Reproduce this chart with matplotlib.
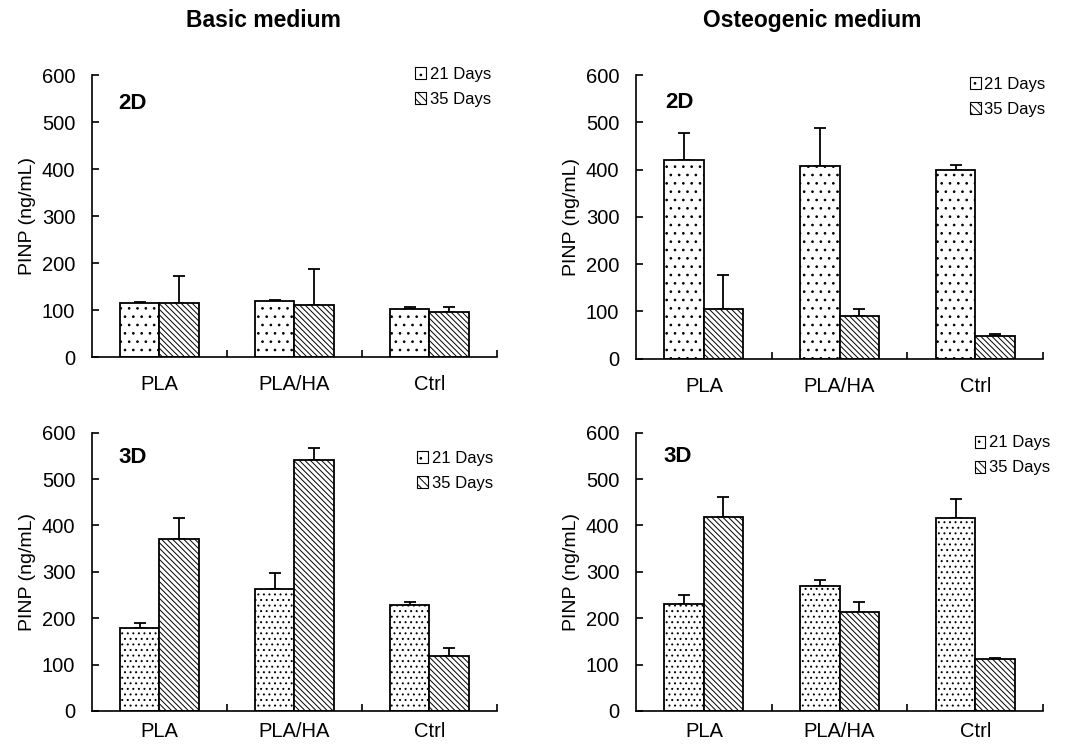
import matplotlib
matplotlib.use("Agg")
import matplotlib.pyplot as plt
import numpy as np
from matplotlib.patches import Patch

plt.rcParams['font.family'] = ['Liberation Sans', 'DejaVu Sans']
plt.rcParams['hatch.linewidth'] = 0.7

categories = ["PLA", "PLA/HA", "Ctrl"]
series_labels = ["21 Days", "35 Days"]
yticks = [0, 100, 200, 300, 400, 500, 600]

# Basic medium 2D
basic_2d_21 = [116, 119, 102]
basic_2d_21_err = [1, 2, 5]
basic_2d_35 = [116, 110, 96]
basic_2d_35_err = [56, 78, 11]
# Osteogenic medium 2D
osteo_2d_21 = [421, 407, 399]
osteo_2d_21_err = [56, 81, 11]
osteo_2d_35 = [104, 90, 48]
osteo_2d_35_err = [74, 14, 5]
# Basic medium 3D
basic_3d_21 = [178, 262, 229]
basic_3d_21_err = [12, 35, 6]
basic_3d_35 = [371, 541, 118]
basic_3d_35_err = [45, 25, 18]
# Osteogenic medium 3D
osteo_3d_21 = [230, 269, 416]
osteo_3d_21_err = [19, 14, 42]
osteo_3d_35 = [419, 213, 113]
osteo_3d_35_err = [42, 22, 2]

fig = plt.figure(figsize=(10.77, 7.44), dpi=100)

panels = [
    ([0.0854, 0.520, 0.376, 0.379], basic_2d_21, basic_2d_21_err, basic_2d_35, basic_2d_35_err,
     "2D", (0.985, 1.03), (0.10, 0.90), '..', 13),
    ([0.5905, 0.518, 0.378, 0.381], osteo_2d_21, osteo_2d_21_err, osteo_2d_35, osteo_2d_35_err,
     "2D", (1.005, 0.995), (0.106, 0.905), '..', 13),
    ([0.0854, 0.0444, 0.376, 0.374], basic_3d_21, basic_3d_21_err, basic_3d_35, basic_3d_35_err,
     "3D", (0.99, 0.935), (0.10, 0.91), '...', 8),
    ([0.5905, 0.0444, 0.378, 0.374], osteo_3d_21, osteo_3d_21_err, osteo_3d_35, osteo_3d_35_err,
     "3D", (1.017, 0.99), (0.103, 0.914), '...', 8),
]

w = 0.29
x = np.arange(len(categories))
for rect, v21, e21, v35, e35, lab, lanchor, lpos, dots, xpad in panels:
    ax = fig.add_axes(rect)
    ax.bar(x - w / 2, v21, w, color='white', edgecolor='black', linewidth=1.3, hatch=dots, zorder=2)
    ax.bar(x + w / 2, v35, w, color='white', edgecolor='black', linewidth=1.3, hatch='\\\\\\\\\\\\', zorder=2)
    ax.errorbar(x - w / 2, v21, yerr=[np.zeros(3), e21], fmt='none', ecolor='black',
                elinewidth=1.3, capsize=4, capthick=1.3, zorder=1)
    ax.errorbar(x + w / 2, v35, yerr=[np.zeros(3), e35], fmt='none', ecolor='black',
                elinewidth=1.3, capsize=4, capthick=1.3, zorder=1)
    ax.set_xlim(-0.5, 2.5)
    ax.set_ylim(0, 600)
    ax.set_yticks(yticks)
    ax.tick_params(axis='y', direction='in', length=5, width=1.2, pad=12, labelsize=14.5)
    ax.set_xticks(x)
    ax.set_xticklabels(categories)
    ax.tick_params(axis='x', length=0, pad=xpad, labelsize=14.5)
    ax.set_xticks([0.5, 1.5, 2.5], minor=True)
    ax.tick_params(axis='x', which='minor', direction='in', length=5, width=1.2)
    for s in ['top', 'right']:
        ax.spines[s].set_visible(False)
    for s in ['left', 'bottom']:
        ax.spines[s].set_linewidth(1.2)
    ax.set_ylabel("PINP (ng/mL)", fontsize=14, labelpad=4)
    ax.text(lpos[0], lpos[1], lab, transform=ax.transAxes, fontsize=16, fontweight='bold',
            ha='center', va='center')
    handles = [Patch(facecolor='white', edgecolor='black', hatch='..', linewidth=0.8),
               Patch(facecolor='white', edgecolor='black', hatch='\\\\\\\\', linewidth=0.8)]
    ax.legend(handles, series_labels, loc='upper right', bbox_to_anchor=lanchor, frameon=False,
              fontsize=12, handlelength=0.65, handleheight=0.75, handletextpad=0.2,
              labelspacing=0.6, borderpad=0, borderaxespad=0)

fig.text(0.245, 0.972, "Basic medium", ha='center', va='center', fontsize=16.5, fontweight='bold')
fig.text(0.754, 0.972, "Osteogenic medium", ha='center', va='center', fontsize=16.5, fontweight='bold')

fig.savefig("out.png", dpi=100)
